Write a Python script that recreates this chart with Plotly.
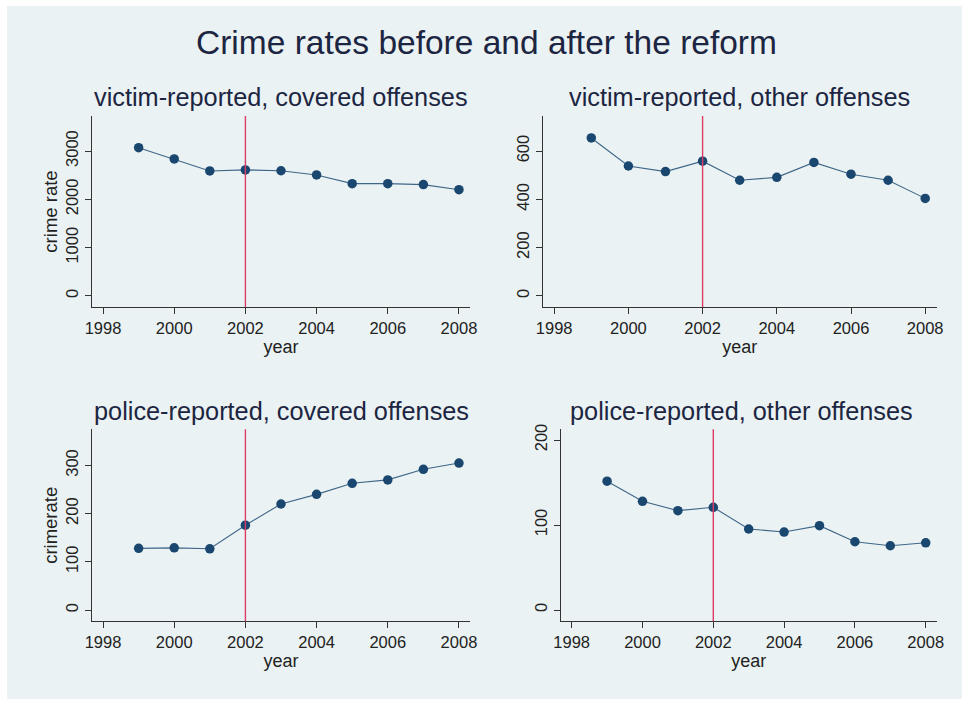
import plotly.graph_objects as go
from plotly.subplots import make_subplots

years = [1999, 2000, 2001, 2002, 2003, 2004, 2005, 2006, 2007, 2008]
victim_covered = [3070, 2836, 2588, 2609, 2592, 2505, 2325, 2325, 2305, 2200]
victim_other = [654, 538, 515, 558, 479, 491, 553, 504, 479, 404]
police_covered = [128, 129, 127, 176, 220, 240, 263, 270, 292, 305]
police_other = [151.5, 127.9, 116.9, 120.8, 95.3, 91.7, 99.2, 80.3, 75.6, 79.1]
reform_year = 2002

main_title = "Crime rates before and after the reform"
panel_titles = ["victim-reported, covered offenses", "victim-reported, other offenses",
                "police-reported, covered offenses", "police-reported, other offenses"]
y_titles = ["crime rate", "", "crimerate", ""]
x_ticks = [1998, 2000, 2002, 2004, 2006, 2008]
y_ticks = [[0, 1000, 2000, 3000], [0, 200, 400, 600], [0, 100, 200, 300], [0, 100, 200]]
y_ranges = [[-228, 3725], [-45.6, 745], [-23.4, 375], [-13.3, 212.6]]
series = [victim_covered, victim_other, police_covered, police_other]

W, H = 962, 702
BG = "#EAF2F3"
NAVY = "#1a476f"
TXT = "#1c2541"
FONT = "Liberation Sans, Arial, sans-serif"

# pixel domains
xdoms = [(92, 470), (542.7, 936.7), (92, 470), (560.7, 936.7)]
ydoms = [(116, 307), (116, 307), (429.3, 621.3), (429.3, 621.3)]

fig = make_subplots(rows=2, cols=2)
pos = [(1, 1), (1, 2), (2, 1), (2, 2)]

for i, (r, c) in enumerate(pos):
    fig.add_trace(go.Scatter(
        x=years, y=series[i], mode="lines+markers",
        line=dict(color="#3f6688", width=1.1),
        marker=dict(color=NAVY, size=9.5, symbol="circle"),
        showlegend=False), row=r, col=c)
    fig.add_vline(x=reform_year, line=dict(color="#DC3D66", width=1.4), row=r, col=c)
    x0, x1 = xdoms[i]
    y0, y1 = ydoms[i]
    fig.update_xaxes(domain=[x0 / W, x1 / W], range=[1997.69, 2008.31], automargin=False,
                     tickvals=x_ticks, ticks="outside", ticklen=6, tickcolor="#333",
                     showline=True, linecolor="#333", linewidth=1.2, showgrid=False,
                     zeroline=False, tickfont=dict(size=16.5, color="#222", family=FONT),
                     title=dict(text="year", font=dict(size=18, color="#222", family=FONT), standoff=4),
                     row=r, col=c)
    fig.update_yaxes(domain=[1 - y1 / H, 1 - y0 / H], range=y_ranges[i], automargin=False,
                     tickvals=y_ticks[i], tickangle=-90, ticks="outside", ticklen=6, tickcolor="#333",
                     showline=True, linecolor="#333", linewidth=1.2, showgrid=True,
                     gridcolor=BG, gridwidth=1, zeroline=False,
                     tickfont=dict(size=16.5, color="#222", family=FONT),
                     title=dict(text=y_titles[i], font=dict(size=18.5, color="#222", family=FONT), standoff=0),
                     row=r, col=c)
    fig.add_annotation(text=panel_titles[i], xref="paper", yref="paper",
                       x=(x0 + x1) / 2 / W + (0.0 if i != 3 else -0.008),
                       y=1 - (97 if i < 2 else 411) / H,
                       xanchor="center", yanchor="middle", showarrow=False,
                       font=dict(size=25.3, color=TXT, family=FONT))

fig.add_annotation(text=main_title, xref="paper", yref="paper", x=487 / W, y=1 - 42 / H,
                   xanchor="center", yanchor="middle", showarrow=False,
                   font=dict(size=33.5, color=TXT, family=FONT))

fig.add_shape(type="rect", xref="paper", yref="paper", x0=7 / W, x1=1, y0=1 - 699 / H, y1=1 - 6 / H,
              fillcolor=BG, line=dict(width=0), layer="below")

fig.update_layout(width=W, height=H, margin=dict(l=0, r=0, t=0, b=0, autoexpand=False),
                  paper_bgcolor="white", plot_bgcolor="white",
                  font=dict(family=FONT))

fig.write_html("out.html")
